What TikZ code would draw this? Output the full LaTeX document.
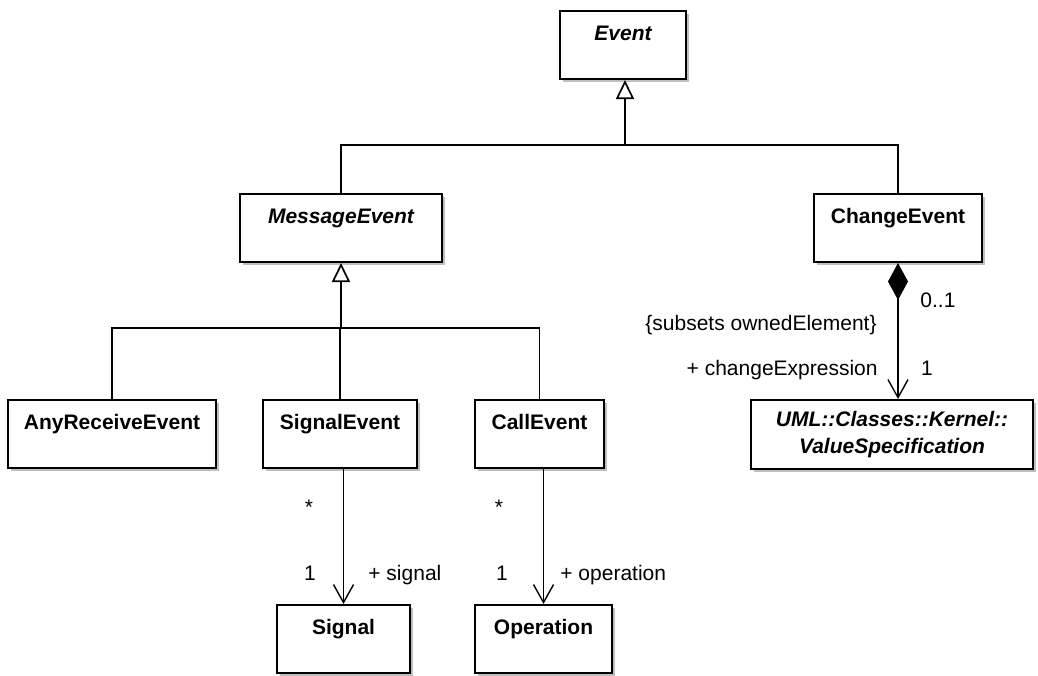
\documentclass[tikz,border=0pt]{standalone}
\usepackage{fontspec}
\setmainfont{Liberation Sans}
\usetikzlibrary{positioning, arrows.meta, calc, shadows}

\begin{document}
\begin{tikzpicture}[
  x=0.5pt, y=-0.5pt,
  font=\fontsize{10.5pt}{12.6pt}\selectfont,
  umlbase/.style={draw, fill=white, line width=1pt, anchor=north west, inner sep=0pt,
    drop shadow={shadow xshift=1.5pt, shadow yshift=-1.5pt, fill=black!25, opacity=1}},
  umlclass/.style={umlbase, minimum height=34pt, text height=14.75pt, text depth=19.25pt,
    font=\fontsize{10.5pt}{12.6pt}\selectfont\bfseries},
  umlabstract/.style={umlclass, font=\fontsize{10.5pt}{12.6pt}\selectfont\bfseries\itshape},
  treeline/.style={line width=0.85pt},
  genline/.style={treeline, -{Triangle[length=9.5pt, width=9pt, fill=white]}},
  assocline/.style={line width=0.7pt, -{Straight Barb[length=9pt, width=10pt]}},
  compline/.style={line width=0.7pt, {Diamond[length=18.5pt, width=10pt]}-{Straight Barb[length=9pt, width=10pt]}},
  mult/.style={inner sep=0pt}
]
\useasboundingbox (0,0) rectangle (1038,675);

% classes
\node[umlabstract, minimum width=63pt] (event) at (559,10) {Event};
\node[umlabstract, minimum width=101pt] (msgevent) at (239,193) {MessageEvent};
\node[umlclass, minimum width=84pt] (chgevent) at (813,193) {ChangeEvent};
\node[umlclass, minimum width=104pt] (anyevent) at (7,399) {AnyReceiveEvent};
\node[umlclass, minimum width=77pt] (sigevent) at (262,399) {SignalEvent};
\node[umlclass, minimum width=64.5pt] (callevent) at (474,399) {CallEvent};
\node[umlbase, minimum width=141pt, minimum height=34.5pt, align=center,
  font=\fontsize{10.5pt}{13.5pt}\selectfont\bfseries\itshape] (valspec) at (750,399)
  {UML::Classes::Kernel::\\ValueSpecification};
\node[umlclass, minimum width=66.5pt] (signal) at (276,604) {Signal};
\node[umlclass, minimum width=68.5pt] (operation) at (474,604) {Operation};

% generalizations
\coordinate (busA) at ($(msgevent.north)+(0,-48)$);
\coordinate (eventin) at ($(event.south)+(2,0)$);
\draw[treeline] (msgevent.north) -- (busA) -| (chgevent.north);
\draw[genline] (eventin |- busA) -- (eventin);
\coordinate (busB) at ($(anyevent.north)+(0,-71)$);
\draw[treeline] (anyevent.north) -- (busB) -| (callevent.north);
\draw[treeline] (sigevent.north) -- (sigevent.north |- busB);
\draw[genline] (msgevent.south |- busB) -- (msgevent.south);

% associations
\draw[assocline] (signal.north |- sigevent.south) -- (signal.north);
\draw[assocline] (operation.north |- callevent.south) -- (operation.north);
\draw[compline] (chgevent.south) -- (chgevent.south |- valspec.north);

% association ends
\node[mult, anchor=base] (sigmany) at (309,514) {*};
\node[mult, anchor=base] (sigone) at (310,580.5) {1};
\node[mult, anchor=base west] (sigrole) at (368,580.5) {+ signal};
\node[mult, anchor=base] (opmany) at (499,514) {*};
\node[mult, anchor=base] (opone) at (502,580.5) {1};
\node[mult, anchor=base west] (oprole) at (560,580.5) {+ operation};
\node[mult, anchor=base west] (chgmult) at (920,307.5) {0..1};
\node[mult, anchor=base east] (chgsubsets) at (877,330) {\{subsets ownedElement\}};
\node[mult, anchor=base east] (chgrole) at (878,375.5) {+ changeExpression};
\node[mult, anchor=base] (chgone) at (927,375.5) {1};
\end{tikzpicture}
\end{document}
